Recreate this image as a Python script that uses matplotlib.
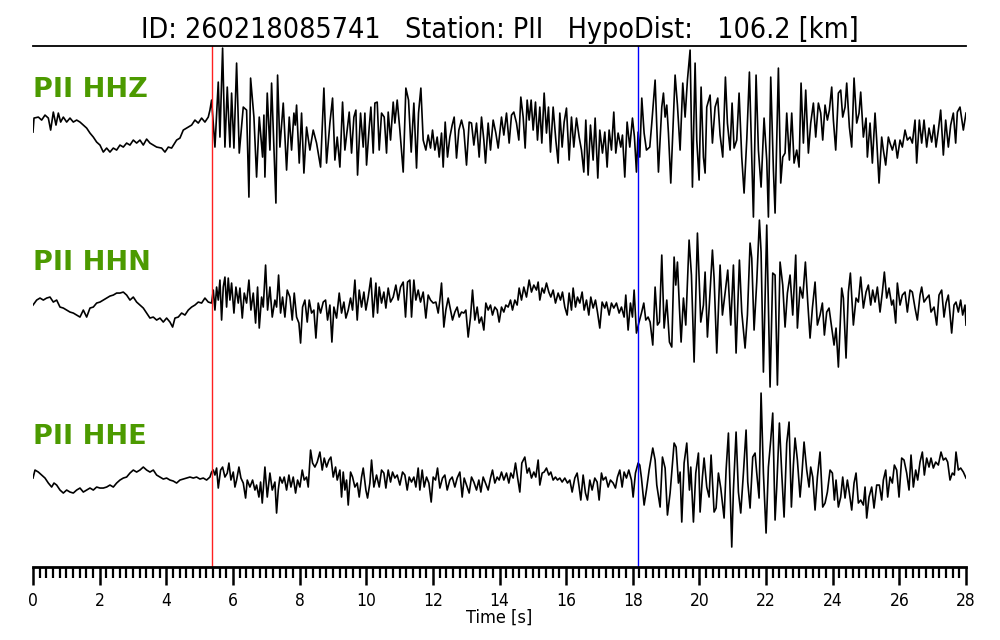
import matplotlib
matplotlib.use("Agg")
import matplotlib.pyplot as plt
import numpy as np
from matplotlib.ticker import MultipleLocator

# picked turning points of each trace: (time [s], amplitude [counts, scaled])
hhz = [
    (0.00, -12), (0.03, 2), (0.16, 3), (0.26, 0), (0.36, 5), (0.46, 2), (0.53, -10), (0.61, 8),
    (0.69, -5), (0.76, 7), (0.83, -2), (0.91, 3), (1.01, -2), (1.11, 2), (1.21, -2), (1.31, 0),
    (1.41, -2), (1.51, -5), (1.61, -8), (1.71, -13), (1.81, -17), (1.91, -22), (2.01, -25),
    (2.11, -32), (2.21, -28), (2.31, -32), (2.41, -28), (2.51, -30), (2.61, -25), (2.71, -27),
    (2.81, -23), (2.91, -25), (3.01, -20), (3.11, -23), (3.21, -20), (3.31, -25), (3.41, -19),
    (3.51, -23), (3.61, -25), (3.71, -27), (3.86, -28), (3.96, -32), (4.06, -27), (4.16, -28),
    (4.31, -20), (4.41, -18), (4.51, -10), (4.66, -7), (4.76, -5), (4.86, 0), (4.96, -3),
    (5.06, 2), (5.16, -2), (5.26, 3), (5.31, 10), (5.36, 20),
    (5.46, -27), (5.56, 38), (5.61, -17), (5.69, 72), (5.76, -27), (5.83, 33), (5.91, -27),
    (5.96, 27), (6.03, -28), (6.11, 57), (6.19, -33), (6.31, 13), (6.41, 10), (6.48, -77),
    (6.53, 42), (6.63, 3), (6.71, -57), (6.79, 3), (6.89, -37), (6.93, 5), (6.96, -57),
    (7.03, 27), (7.11, -30), (7.16, 37), (7.29, -83), (7.34, 45), (7.41, -27), (7.51, 17),
    (7.61, -50), (7.69, 3), (7.76, -30), (7.83, 7), (7.87, -5), (7.91, 15), (7.99, -43),
    (8.06, 7), (8.13, -53), (8.21, -7), (8.31, -30), (8.41, -10), (8.51, -23), (8.63, -47),
    (8.73, 32), (8.81, -43), (8.91, -3), (8.99, 22), (9.06, -40), (9.13, -17), (9.21, -47),
    (9.29, 18), (9.36, -30), (9.43, -10), (9.49, 8), (9.56, -33), (9.63, 3), (9.69, 10),
    (9.74, -55), (9.83, 7), (9.91, -27), (9.96, 7), (10.01, -45), (10.09, -7), (10.14, 13),
    (10.21, -33), (10.26, 17), (10.33, 18), (10.39, -30), (10.46, 7), (10.54, 3), (10.61, -33),
    (10.66, 8), (10.73, -20), (10.81, 18), (10.86, -3), (10.93, 20), (11.01, -10), (11.11, -52),
    (11.19, 32), (11.27, 20), (11.35, -32), (11.43, 17), (11.51, -48), (11.57, 7), (11.64, 32),
    (11.71, -20), (11.79, -30), (11.86, -15), (11.93, -28), (11.99, -10), (12.06, -30),
    (12.13, -17), (12.19, -37), (12.26, -13), (12.31, -47), (12.37, -2), (12.44, -37),
    (12.51, -17), (12.58, -5), (12.64, 3), (12.71, -38), (12.78, -10), (12.86, 0), (12.93, -10),
    (13.01, -45), (13.09, -2), (13.16, -3), (13.23, -25), (13.31, -3), (13.39, -37), (13.46, 3),
    (13.53, -20), (13.58, -43), (13.66, -3), (13.73, -30), (13.81, 0), (13.89, -13),
    (13.96, -28), (14.06, 3), (14.13, -15), (14.21, 7), (14.29, -23), (14.36, 5), (14.43, 8),
    (14.51, -3), (14.58, -20), (14.64, 23), (14.71, 3), (14.77, -28), (14.83, 20), (14.89, 0),
    (14.95, 20), (15.01, -10), (15.08, 18), (15.14, -20), (15.21, 13), (15.27, -23),
    (15.34, 27), (15.41, -13), (15.47, 13), (15.53, -32), (15.61, 13), (15.69, -20),
    (15.76, -43), (15.81, 7), (15.88, -27), (15.94, -2), (16.01, 12), (16.09, -40), (16.16, 3),
    (16.23, -27), (16.31, 2), (16.39, -17), (16.46, -30), (16.53, -52), (16.59, 0), (16.66, -55),
    (16.73, -5), (16.81, -40), (16.87, 2), (16.95, -58), (17.01, -10), (17.09, -33),
    (17.16, -12), (17.23, -47), (17.29, -10), (17.36, -30), (17.43, 8), (17.49, -33),
    (17.56, -13), (17.64, -27), (17.69, -15), (17.76, -57), (17.83, -2), (17.91, -27),
    (17.99, 2), (18.05, -17), (18.11, -52), (18.16, -12), (18.21, -37), (18.27, 22),
    (18.34, -13), (18.41, -30), (18.51, -27), (18.57, -3), (18.67, 40), (18.77, -52),
    (18.87, 13), (18.92, 27), (18.97, 3), (19.02, 15), (19.07, -13), (19.14, -63), (19.20, -13),
    (19.27, 45), (19.34, 15), (19.42, -30), (19.50, 37), (19.57, 3), (19.64, 40), (19.72, 70),
    (19.79, -67), (19.87, 57), (19.92, -20), (19.99, -60), (20.05, 33), (20.12, -37),
    (20.17, -53), (20.22, 13), (20.32, 25), (20.39, -23), (20.47, 13), (20.55, 22), (20.62, -15),
    (20.70, -37), (20.78, 43), (20.84, -3), (20.92, -30), (20.98, 17), (21.04, -28), (21.12, -20),
    (21.19, 27), (21.27, -37), (21.34, -73), (21.42, -20), (21.50, 48), (21.57, -37),
    (21.62, -97), (21.70, 45), (21.77, -30), (21.85, -67), (21.94, 2), (22.02, -40), (22.07, -97),
    (22.14, 43), (22.22, -50), (22.27, -93), (22.32, -20), (22.37, 52), (22.44, -63),
    (22.50, -37), (22.57, -33), (22.62, 7), (22.70, -40), (22.77, 7), (22.84, -43), (22.92, -30),
    (22.99, -47), (23.05, 37), (23.12, -23), (23.19, 30), (23.27, -33), (23.34, -3), (23.42, 17),
    (23.49, -17), (23.57, 17), (23.64, 7), (23.70, -20), (23.77, 15), (23.84, 0), (23.90, 10),
    (23.97, 33), (24.02, 0), (24.09, -30), (24.17, 27), (24.24, 30), (24.30, 3), (24.37, 13),
    (24.42, 37), (24.50, -7), (24.57, -27), (24.64, 42), (24.72, -3), (24.79, 7), (24.84, 28),
    (24.92, -17), (25.00, 2), (25.04, -37), (25.12, -3), (25.19, -43), (25.27, 7), (25.32, -20),
    (25.39, -63), (25.47, -17), (25.52, -30), (25.59, -45), (25.67, -17), (25.72, -23),
    (25.79, -30), (25.87, -20), (25.94, -38), (26.02, -20), (26.09, -27), (26.17, -10),
    (26.24, -20), (26.32, -17), (26.39, -23), (26.47, 0), (26.52, -43), (26.60, 0), (26.67, -23),
    (26.74, 0), (26.82, -27), (26.89, -8), (26.97, -22), (27.04, -5), (27.10, -27), (27.17, -10),
    (27.24, 10), (27.32, -35), (27.39, 0), (27.47, -27), (27.54, -5), (27.62, 7), (27.69, -23),
    (27.74, 8), (27.82, 13), (27.92, -10), (28.00, 7),
]

hhn = [
    (0.00, -5), (0.11, 0), (0.21, 2), (0.31, 0), (0.41, 2), (0.51, 3), (0.61, -2), (0.71, 0),
    (0.81, -7), (0.91, -8), (1.01, -10), (1.11, -12), (1.21, -13), (1.31, -15), (1.41, -17),
    (1.51, -10), (1.61, -17), (1.71, -8), (1.81, -7), (1.91, -3), (2.01, -2), (2.11, 0),
    (2.21, 2), (2.31, 4), (2.41, 5), (2.51, 7), (2.61, 7), (2.71, 8), (2.81, 5), (2.91, 0),
    (3.01, 3), (3.11, -2), (3.21, -5), (3.31, -8), (3.41, -13), (3.51, -18), (3.61, -17),
    (3.71, -20), (3.81, -18), (3.91, -22), (4.01, -18), (4.11, -22), (4.19, -27), (4.26, -18),
    (4.36, -17), (4.46, -13), (4.56, -15), (4.66, -10), (4.76, -7), (4.86, -5), (4.96, -2),
    (5.06, -3), (5.16, 2), (5.26, -2), (5.36, -3),
    (5.41, 10), (5.46, -10), (5.51, 13), (5.56, 0), (5.61, 20), (5.66, -20), (5.71, 13),
    (5.76, 23), (5.81, -7), (5.86, 22), (5.91, 0), (5.96, 17), (6.03, -13), (6.09, 13),
    (6.16, -3), (6.21, 12), (6.28, -18), (6.34, 7), (6.41, -3), (6.48, 20), (6.54, -10),
    (6.61, 7), (6.68, -23), (6.74, 13), (6.79, -28), (6.86, 3), (6.91, -7), (6.98, 35),
    (7.04, -10), (7.11, 13), (7.18, -17), (7.26, 0), (7.31, -7), (7.37, 25), (7.43, -13),
    (7.49, 3), (7.56, -17), (7.63, 10), (7.71, 3), (7.78, -20), (7.84, 7), (7.91, -17),
    (7.98, -23), (8.03, -43), (8.09, -7), (8.16, 0), (8.23, -22), (8.29, 0), (8.36, -13),
    (8.43, -10), (8.49, -38), (8.56, -3), (8.63, -13), (8.71, -2), (8.78, 0), (8.84, -20),
    (8.91, -5), (8.97, -42), (9.03, -7), (9.11, -18), (9.19, 7), (9.26, -13), (9.33, -2),
    (9.39, -18), (9.46, -10), (9.53, 2), (9.59, -10), (9.66, 20), (9.73, -20), (9.79, 10),
    (9.86, -7), (9.93, 8), (9.99, -10), (10.06, 3), (10.14, 22), (10.21, -17), (10.29, 17),
    (10.34, -13), (10.39, 13), (10.46, -3), (10.53, 8), (10.59, -8), (10.66, 12), (10.73, -2),
    (10.81, 3), (10.89, 15), (10.96, 0), (11.03, 13), (11.11, 18), (11.18, -17), (11.24, 18),
    (11.31, 20), (11.36, -17), (11.43, 20), (11.49, 0), (11.56, 10), (11.63, -2), (11.71, 8),
    (11.79, -18), (11.86, 5), (11.93, 0), (12.01, -3), (12.09, -2), (12.16, -13), (12.21, 0),
    (12.26, 17), (12.33, -27), (12.39, -10), (12.46, 2), (12.53, -10), (12.59, -20),
    (12.66, -12), (12.73, -7), (12.79, -17), (12.86, -12), (12.93, -13), (12.99, -10),
    (13.06, -37), (13.13, -17), (13.19, 10), (13.26, -20), (13.33, -7), (13.39, -23),
    (13.46, -17), (13.53, -30), (13.59, -3), (13.66, -10), (13.73, -5), (13.79, -15),
    (13.86, -7), (13.93, -10), (13.99, -22), (14.06, -7), (14.13, -12), (14.19, -5),
    (14.26, -7), (14.33, 0), (14.39, -10), (14.46, 0), (14.53, -5), (14.59, 12), (14.66, 0),
    (14.73, 13), (14.81, 3), (14.89, 20), (14.96, 8), (15.03, 15), (15.11, 10), (15.16, 18),
    (15.21, 0), (15.28, 12), (15.34, 7), (15.41, 17), (15.48, 8), (15.54, 3), (15.61, 10),
    (15.68, -3), (15.76, 7), (15.83, 0), (15.89, 8), (15.96, -7), (16.03, -15), (16.09, 7),
    (16.16, -10), (16.21, 12), (16.28, -7), (16.34, 3), (16.41, -3), (16.48, 8), (16.54, -10),
    (16.61, 0), (16.68, -15), (16.74, 3), (16.81, -8), (16.88, 0), (16.94, -12), (17.01, -28),
    (17.08, -2), (17.16, -8), (17.21, -2), (17.29, -15), (17.36, -3), (17.43, -8), (17.51, -3),
    (17.59, -13), (17.66, -7), (17.74, -17), (17.79, 5), (17.86, -30), (17.93, -3),
    (17.99, -17), (18.04, 10), (18.11, -33), (18.18, -23), (18.26, -13), (18.33, -3),
    (18.39, -20), (18.46, -17), (18.52, -22), (18.60, -45), (18.67, 13), (18.74, -25),
    (18.80, -22), (18.87, 45), (18.94, -28), (19.02, 0), (19.10, -42), (19.17, -47),
    (19.24, 43), (19.29, 15), (19.34, 38), (19.40, -8), (19.45, -42), (19.52, 2), (19.59, -25),
    (19.69, 60), (19.76, 25), (19.84, -62), (19.94, 67), (20.04, -22), (20.12, -5), (20.17, 28),
    (20.24, -37), (20.30, -3), (20.39, 50), (20.44, 22), (20.52, -53), (20.62, 35), (20.69, -15),
    (20.77, 7), (20.85, 30), (20.94, -25), (21.02, 35), (21.10, -53), (21.20, 40), (21.27, -12),
    (21.37, -48), (21.44, -15), (21.52, 57), (21.57, 42), (21.64, -30), (21.72, 18), (21.80, 80),
    (21.85, 48), (21.92, -72), (22.02, 75), (22.12, -87), (22.20, 27), (22.27, 25), (22.34, -85),
    (22.42, 38), (22.50, 15), (22.57, -27), (22.64, 7), (22.72, 25), (22.80, -15), (22.89, 45),
    (22.94, -28), (23.02, 13), (23.10, 2), (23.18, 38), (23.25, -2), (23.32, -38), (23.39, -8),
    (23.47, 18), (23.54, -25), (23.62, -15), (23.69, -3), (23.75, -35), (23.82, -12),
    (23.89, -8), (23.97, -28), (24.04, -45), (24.10, -28), (24.17, -67), (24.27, 12),
    (24.32, 2), (24.40, -58), (24.47, 8), (24.53, 27), (24.62, -25), (24.70, 2), (24.77, -2),
    (24.84, 23), (24.92, -8), (25.00, 8), (25.07, 15), (25.14, -5), (25.20, 10), (25.27, -2),
    (25.34, 13), (25.42, -12), (25.49, 8), (25.55, 28), (25.62, 2), (25.69, 12), (25.77, -5),
    (25.82, 0), (25.89, -23), (25.94, 17), (26.02, -5), (26.09, 5), (26.17, 8), (26.24, -12),
    (26.32, 10), (26.39, 8), (26.47, -8), (26.54, -20), (26.62, 5), (26.67, 13), (26.74, -2),
    (26.82, 2), (26.89, 5), (26.95, -12), (27.04, -7), (27.12, -25), (27.19, 5), (27.27, 10),
    (27.34, -17), (27.40, -3), (27.47, 5), (27.57, -33), (27.64, -5), (27.70, -2), (27.77, -12),
    (27.84, 0), (27.90, -15), (27.97, -5), (28.00, -25),
]

hhe = [
    (0.00, -3), (0.06, 5), (0.16, 3), (0.26, 0), (0.36, -3), (0.46, -8), (0.56, -12), (0.63, -8),
    (0.71, -10), (0.81, -15), (0.91, -18), (1.01, -15), (1.11, -17), (1.21, -18), (1.31, -15),
    (1.41, -13), (1.51, -17), (1.61, -15), (1.71, -13), (1.81, -15), (1.91, -12), (2.01, -13),
    (2.11, -13), (2.21, -12), (2.31, -10), (2.41, -12), (2.51, -8), (2.61, -5), (2.71, -3),
    (2.81, -2), (2.91, 2), (3.01, 5), (3.11, 3), (3.21, 5), (3.31, 8), (3.41, 5), (3.51, 3),
    (3.61, 5), (3.71, 0), (3.81, -2), (3.91, -4), (4.01, -3), (4.11, -5), (4.21, -6),
    (4.31, -8), (4.41, -5), (4.51, -4), (4.61, -3), (4.71, -2), (4.81, -3), (4.91, -2),
    (5.01, -4), (5.11, -3), (5.21, -5), (5.31, -2), (5.36, 3),
    (5.41, 5), (5.46, 0), (5.51, 7), (5.56, -13), (5.63, 5), (5.69, 8), (5.76, -2), (5.83, 2),
    (5.88, 12), (5.94, -5), (6.01, 3), (6.06, -12), (6.11, -5), (6.18, 8), (6.24, -3),
    (6.31, -8), (6.38, -23), (6.43, -5), (6.51, -12), (6.59, -5), (6.66, -15), (6.71, -10),
    (6.78, -22), (6.83, -7), (6.88, -28), (6.96, 8), (7.03, -22), (7.11, 2), (7.18, -15),
    (7.26, -7), (7.31, -38), (7.36, -15), (7.41, -2), (7.48, -8), (7.54, -2), (7.61, -15),
    (7.68, 0), (7.74, -12), (7.81, -2), (7.88, -18), (7.94, -5), (8.01, -12), (8.08, 5),
    (8.14, -5), (8.21, -2), (8.26, -12), (8.33, 25), (8.39, 12), (8.46, 8), (8.53, 13),
    (8.61, 23), (8.68, 5), (8.74, 17), (8.81, 8), (8.88, 15), (8.94, 18), (9.01, -2), (9.08, 8),
    (9.13, -5), (9.21, 5), (9.26, -22), (9.31, 3), (9.36, -15), (9.41, -5), (9.46, -30),
    (9.53, 3), (9.59, -2), (9.66, -12), (9.73, -8), (9.79, -22), (9.86, -2), (9.91, 7),
    (9.99, -15), (10.04, -23), (10.11, -8), (10.16, 15), (10.23, -12), (10.31, 0), (10.39, -12),
    (10.46, 5), (10.53, 2), (10.59, -13), (10.66, 5), (10.73, -7), (10.79, 3), (10.86, -3),
    (10.93, 0), (11.01, -10), (11.09, 3), (11.16, 0), (11.23, -15), (11.29, -2), (11.36, -7),
    (11.43, -2), (11.49, -12), (11.56, 7), (11.61, -15), (11.68, 5), (11.74, -12), (11.81, -2),
    (11.88, -8), (11.95, -27), (12.01, -2), (12.08, -5), (12.14, 7), (12.21, -13), (12.29, -3),
    (12.36, 0), (12.43, -15), (12.51, -5), (12.58, -2), (12.66, -12), (12.73, -3), (12.81, 3),
    (12.88, -22), (12.94, -3), (13.01, -10), (13.09, -18), (13.16, -2), (13.23, -7),
    (13.31, -15), (13.38, -5), (13.44, -17), (13.51, -2), (13.58, -8), (13.66, -15),
    (13.73, -3), (13.79, 5), (13.86, -8), (13.93, -2), (13.99, -5), (14.06, 3), (14.13, -5),
    (14.21, 2), (14.28, -8), (14.34, 2), (14.41, -3), (14.48, 12), (14.54, -2), (14.61, -17),
    (14.67, 12), (14.76, 18), (14.83, 2), (14.89, 7), (14.96, -3), (15.03, 3), (15.09, -2),
    (15.16, 15), (15.21, -10), (15.28, 2), (15.34, 3), (15.41, 7), (15.48, 0), (15.54, 3),
    (15.61, -5), (15.68, -2), (15.74, -5), (15.81, -3), (15.88, -7), (15.96, -3), (16.04, -8),
    (16.11, -5), (16.18, -17), (16.26, -3), (16.33, 2), (16.39, -12), (16.44, -25), (16.51, 0),
    (16.58, -18), (16.64, -25), (16.71, -5), (16.78, -15), (16.86, -3), (16.93, -7), (16.99, -25),
    (17.06, 2), (17.11, -5), (17.19, -2), (17.26, -12), (17.33, -5), (17.41, -8), (17.48, -13),
    (17.54, -2), (17.61, 5), (17.68, -12), (17.74, 3), (17.81, -3), (17.88, 5), (17.96, -5),
    (18.01, -22), (18.08, 2), (18.16, 12), (18.21, 10), (18.26, -3), (18.34, -30), (18.41, -15),
    (18.49, 5), (18.60, 27), (18.67, 15), (18.72, -10), (18.82, -32), (18.89, 18), (18.97, 7),
    (19.04, -40), (19.12, -18), (19.24, 32), (19.30, 28), (19.37, -8), (19.42, 3), (19.47, -47),
    (19.54, 12), (19.62, 32), (19.70, -15), (19.74, 8), (19.82, -47), (19.89, 2), (19.97, 22),
    (20.02, -37), (20.09, -2), (20.14, 17), (20.22, -12), (20.29, -22), (20.35, 20), (20.44, -37),
    (20.50, -33), (20.57, 2), (20.64, -13), (20.74, -43), (20.80, 5), (20.87, 42), (20.97, -72),
    (21.02, -15), (21.10, 43), (21.17, -17), (21.24, -38), (21.32, 2), (21.40, 45), (21.45, -7),
    (21.52, -33), (21.60, 18), (21.67, 22), (21.72, 2), (21.79, -23), (21.85, 82), (21.92, 2),
    (22.00, -58), (22.07, 8), (22.14, 35), (22.20, 62), (22.27, -45), (22.32, -12), (22.40, 52),
    (22.47, 2), (22.54, -42), (22.62, 32), (22.69, 53), (22.76, -32), (22.82, 10), (22.87, 37),
    (22.94, 15), (23.02, -22), (23.07, -2), (23.14, 33), (23.22, 5), (23.29, -12), (23.34, 8),
    (23.40, -2), (23.47, -35), (23.54, -2), (23.62, 23), (23.70, -32), (23.77, -28),
    (23.84, -17), (23.92, 5), (23.99, 2), (24.05, -25), (24.10, -5), (24.17, -32), (24.24, -22),
    (24.30, -2), (24.37, -23), (24.44, -5), (24.50, -18), (24.57, -35), (24.64, -8), (24.70, 2),
    (24.77, -28), (24.84, -25), (24.92, -30), (24.97, -12), (25.02, -43), (25.09, -22),
    (25.17, -12), (25.24, -33), (25.32, -10), (25.40, -10), (25.47, -25), (25.52, -5),
    (25.59, 5), (25.65, -22), (25.72, -2), (25.79, -8), (25.85, 10), (25.92, 5), (25.99, -22),
    (26.07, 17), (26.14, 15), (26.22, 2), (26.29, -15), (26.35, 20), (26.42, -12), (26.49, 5),
    (26.55, -5), (26.62, 13), (26.69, 23), (26.75, 0), (26.82, 17), (26.89, 8), (26.95, 17),
    (27.02, 7), (27.09, 13), (27.17, 10), (27.25, 23), (27.32, 15), (27.39, 17), (27.45, 13),
    (27.52, -5), (27.59, 2), (27.65, 0), (27.70, 23), (27.77, 5), (27.84, 7), (27.92, 3),
    (28.00, -3),
]

stations = ["PII HHZ", "PII HHN", "PII HHE"]
traces = [hhz, hhn, hhe]
p_pick = 5.37
s_pick = 18.16
event_id = "260218085741"
station = "PII"
hypo_dist = 106.2

offsets = [0, -180, -355]
label_y = [30, -143, -317]
green = "#4c9a00"

plt.rcParams["font.stretch"] = "condensed"

fig = plt.figure(figsize=(10, 6.4), dpi=100)
ax = fig.add_axes([0.033, 0.114, 0.933, 0.814])

for data, off in zip(traces, offsets):
    t = np.array([p[0] for p in data])
    a = np.array([p[1] for p in data])
    ax.plot(t, a + off, color="black", lw=1.2)

for name, ly in zip(stations, label_y):
    ax.text(0.0, ly, name, color=green, fontsize=19.5, fontweight="bold",
            fontstretch="normal", ha="left", va="center")

ax.axvline(p_pick, color="#ff2020", lw=1.0)
ax.axvline(s_pick, color="blue", lw=1.0)

ax.set_xlim(0, 28)
ax.set_ylim(-447, 74)
ax.set_yticks([])
ax.spines["left"].set_visible(False)
ax.spines["right"].set_visible(False)
ax.spines["bottom"].set_linewidth(2.0)
ax.spines["top"].set_linewidth(1.3)

ax.xaxis.set_major_locator(MultipleLocator(2))
ax.xaxis.set_minor_locator(MultipleLocator(0.2))
ax.tick_params(axis="x", which="major", length=13, width=1.8, labelsize=12.5, pad=5,
               direction="out")
ax.tick_params(axis="x", which="minor", length=8, width=1.6, direction="out")
ax.set_xlabel("Time [s]", fontsize=13, labelpad=-1)

ax.set_title(f"ID: {event_id}   Station: {station}   HypoDist:   {hypo_dist} [km]",
             fontsize=20.5, pad=6)

fig.savefig("out.png", dpi=100)
